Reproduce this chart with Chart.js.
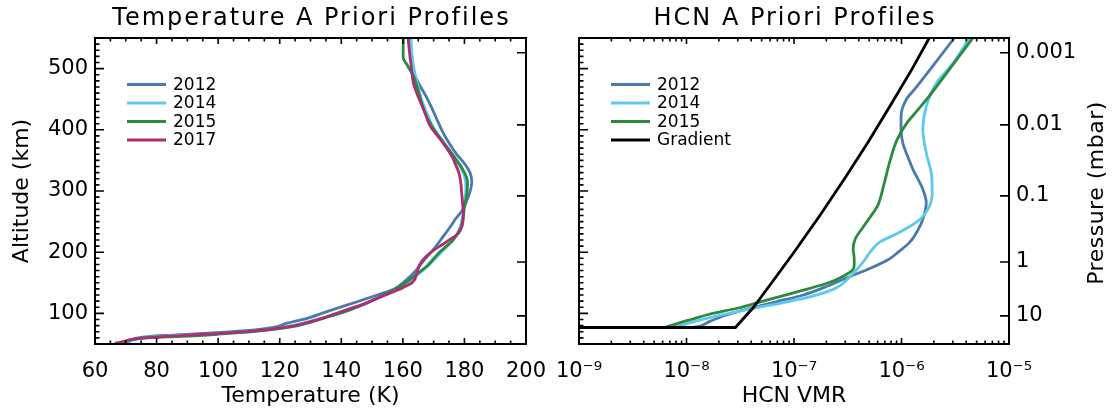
<!DOCTYPE html>
<html>
<head>
<meta charset="utf-8">
<script src="https://cdn.jsdelivr.net/npm/chart.js@4"></script>
<style>
  body { margin: 0; background: #fff; }
  canvas { position: absolute; top: 0; }
</style>
</head>
<body>
<canvas id="temp" width="556" height="410" style="left:0"></canvas>
<canvas id="hcn" width="556" height="410" style="left:556px"></canvas>
<script>
// ---- temperature profiles (K) vs altitude (km)
const alt2012T = [550, 530, 510, 497, 484, 470, 455, 440, 420, 400, 380, 360, 345, 330, 315, 300, 285, 270, 255, 240, 225, 210, 200, 184, 168, 154, 140, 130, 119, 105, 92, 84, 77, 73, 69, 64.5, 62.5, 59.5, 55, 51];
const temp2012 = [162.2, 162.5, 163.0, 163.3, 164.3, 165.8, 167.5, 169.0, 170.8, 172.6, 174.8, 177.5, 180.0, 181.8, 182.4, 181.9, 180.8, 179.5, 177.2, 175.2, 173.0, 170.8, 169.2, 166.4, 163.9, 161.0, 157.2, 151.7, 145.2, 136.5, 128.9, 122.4, 118, 112, 101, 85, 78, 73.5, 71.5, 70.8];

const alt2014T = [550, 520, 490, 470, 450, 425, 405, 385, 365, 345, 325, 305, 280, 260, 240, 221, 200, 177, 156, 140, 123, 101.6, 86, 76, 71, 67, 63.5, 60, 56, 51];
const temp2014 = [162.6, 163.0, 164.0, 165.0, 166.0, 168.0, 169.8, 172.5, 175.5, 178.0, 180.0, 180.5, 180.0, 179.5, 178.5, 176.5, 172.5, 168.0, 163.0, 158.0, 151.0, 140.5, 129, 120, 112, 100, 85, 76, 72, 70.5];

const alt2015T = [550, 535, 518, 505, 487, 460, 430, 405, 380, 357, 335, 315, 295, 275, 260, 243, 232, 221, 210, 199.5, 188, 177, 166, 156, 148, 140, 133, 123, 112, 101.6, 95, 87, 80, 75, 70.5, 66, 62.5, 60.5, 58, 54, 50];
const temp2015 = [160.2, 160.1, 160.1, 161.5, 163.5, 165.2, 167.0, 169.5, 173.0, 176.5, 179.5, 181.0, 180.8, 180.0, 179.7, 179.1, 178.0, 176.5, 174.2, 171.8, 169.8, 167.8, 165.0, 162.5, 160.2, 157.8, 155.0, 150.8, 146.0, 140.4, 136, 131, 126, 120, 112, 100, 88, 78, 73, 70, 66.4];

const alt2017T = [550, 520, 500, 477, 460, 449, 430, 406, 379, 357, 340, 330, 310, 297, 280, 265, 250, 237, 228, 221, 213, 205, 193, 180, 165, 151, 140.5, 127, 113.5, 102.7, 94, 86.5, 80, 75.5, 71.5, 67.5, 63, 60, 57.5, 54, 51];
const temp2017 = [161.7, 162.3, 162.8, 163.4, 164.5, 165.4, 167.0, 168.9, 173.0, 175.9, 177.4, 178.2, 178.9, 179.1, 179.4, 179.6, 179.5, 178.8, 177.5, 175.3, 173.0, 170.5, 167.5, 165.5, 164.5, 163.2, 159.3, 152.8, 146.3, 139.8, 135, 130, 125, 119, 112, 101, 85, 76, 72, 69, 66.4];

// ---- HCN volume mixing ratio vs altitude (km)
const alt2012H = [560, 497, 470, 448.6, 421.6, 400, 378, 355, 335, 302.7, 281, 254, 235, 216, 200, 189, 173, 162, 146, 129.7, 119, 108, 97, 86.5, 79, 77, 77];
const vmr2012 = [3.42e-6, 1.82e-6, 1.38e-6, 1.10e-6, 9.9e-7, 9.9e-7, 1.03e-6, 1.15e-6, 1.28e-6, 1.58e-6, 1.70e-6, 1.58e-6, 1.41e-6, 1.19e-6, 9.3e-7, 7.7e-7, 5.0e-7, 3.5e-7, 2.14e-7, 1.2e-7, 6.8e-8, 3.84e-8, 2.32e-8, 1.63e-8, 1.32e-8, 1.15e-8, 1e-10];

const alt2014H = [560, 508, 475.7, 438, 400, 362, 329.7, 297, 270, 248.6, 229.7, 216, 200, 184, 159.5, 140.5, 124, 113.5, 105.4, 94.6, 83.8, 79, 77, 77];
const vmr2014 = [4.62e-6, 3.0e-6, 2.1e-6, 1.7e-6, 1.58e-6, 1.7e-6, 1.89e-6, 1.93e-6, 1.76e-6, 1.37e-6, 8.9e-7, 6.2e-7, 5.1e-7, 4.4e-7, 3.3e-7, 2.4e-7, 1.2e-7, 6.0e-8, 3.5e-8, 1.8e-8, 1.02e-8, 8.3e-9, 7.5e-9, 1e-10];

const alt2015H = [560, 500, 455, 430, 411, 384, 352, 308, 276, 255, 238, 222, 205, 190, 178, 170, 160, 150, 140, 130, 118, 108, 99, 90, 81, 77, 77];
const vmr2015 = [5.08e-6, 2.82e-6, 1.81e-6, 1.38e-6, 1.12e-6, 9.1e-7, 7.9e-7, 6.8e-7, 6.0e-7, 5.0e-7, 4.27e-7, 3.72e-7, 3.55e-7, 3.63e-7, 3.63e-7, 3.47e-7, 2.82e-7, 2.09e-7, 1.35e-7, 8.3e-8, 4.7e-8, 2.9e-8, 1.66e-8, 1.1e-8, 7.4e-9, 6.3e-9, 1e-10];

const altGrad = [560, 500, 440, 380, 320, 260, 200, 150, 110, 77, 77];
const vmrGrad = [1.95e-6, 1.26e-6, 7.9e-7, 4.9e-7, 2.95e-7, 1.74e-7, 1.0e-7, 6.2e-8, 4.2e-8, 2.85e-8, 1e-10];

// ---- axes
const tempTicks = [60, 80, 100, 120, 140, 160, 180, 200];
const altTicks = [100, 200, 300, 400, 500];
const hcnTicks = [1e-9, 1e-8, 1e-7, 1e-6, 1e-5];
const hcnTickLabels = ['10⁻⁹', '10⁻⁸', '10⁻⁷', '10⁻⁶', '10⁻⁵'];
const pressureAlt = [526, 408, 292, 184, 96];
const pressureLabels = ['0.001', '0.01', '0.1', '1', '10'];

Chart.defaults.font.family = '"DejaVu Sans", sans-serif';
Chart.defaults.color = '#000';

const pts = (xs, ys) => xs.map((v, i) => ({x: v, y: ys[i]}));

function line(label, color, data, i, n, smooth) {
  return {
    label, data, borderColor: color, backgroundColor: color,
    borderWidth: 2.8, pointRadius: 0, showLine: true,
    cubicInterpolationMode: smooth ? 'monotone' : 'default',
    tension: 0, capBezierPoints: false, order: n - i
  };
}

// fixed axis box sizes, and no extra room for overhanging labels
const fixSize = (w, h) => s => {
  if (w !== null) s.width = w;
  if (h !== null) s.height = h;
  s.paddingLeft = s.paddingRight = s.paddingTop = s.paddingBottom = 0;
};

// minor tick values for the frame
const tempMinor = [], altMinor = [], hcnMinor = [];
for (let v = 60; v <= 200; v += 5) if (v % 20) tempMinor.push(v);
for (let v = 50; v <= 550; v += 10) if (v % 100) altMinor.push(v);
for (let e = -9; e < -5; e++) for (let m = 2; m < 10; m++) hcnMinor.push(m * Math.pow(10, e));

// IDL style frame: box with inward ticks on all four sides
const frameTicks = {
  id: 'frameTicks',
  afterDatasetsDraw(chart, args, o) {
    const {ctx, chartArea: a} = chart;
    const x = chart.scales.x, y = chart.scales.y;
    ctx.save();
    ctx.strokeStyle = '#000';
    ctx.lineWidth = 1.6;
    ctx.beginPath();
    const mark = (px, py, dx, dy) => { ctx.moveTo(px, py); ctx.lineTo(px + dx, py + dy); };
    o.xMajor.forEach(v => { const p = x.getPixelForValue(v); mark(p, a.bottom, 0, -6); mark(p, a.top, 0, 6); });
    o.xMinor.forEach(v => { const p = x.getPixelForValue(v); mark(p, a.bottom, 0, -3.5); mark(p, a.top, 0, 3.5); });
    o.yMajor.forEach(v => mark(a.left, y.getPixelForValue(v), 9, 0));
    o.yMinor.forEach(v => mark(a.left, y.getPixelForValue(v), 4.5, 0));
    o.rightMajor.forEach(v => mark(a.right, y.getPixelForValue(v), -9, 0));
    ctx.stroke();
    ctx.lineWidth = 2;
    ctx.strokeRect(a.left, a.top, a.right - a.left, a.bottom - a.top);
    ctx.restore();
  }
};

// panel title, legend and the right-hand pressure label
const panelText = {
  id: 'panelText',
  afterDraw(chart, args, o) {
    const {ctx, chartArea: a} = chart;
    ctx.save();
    ctx.fillStyle = '#000';
    ctx.font = '24px "DejaVu Sans"';
    ctx.letterSpacing = '2px';
    ctx.textAlign = 'center';
    ctx.textBaseline = 'alphabetic';
    ctx.fillText(o.title, (a.left + a.right) / 2 + 1, a.top - 13);
    ctx.letterSpacing = '0px';

    ctx.font = '17px "DejaVu Sans"';
    ctx.textAlign = 'left';
    ctx.textBaseline = 'middle';
    ctx.lineWidth = 3;
    chart.data.datasets.forEach((ds, i) => {
      const yy = a.top + 46.5 + i * 18.5;
      ctx.strokeStyle = ds.borderColor;
      ctx.beginPath();
      ctx.moveTo(a.left + 32, yy);
      ctx.lineTo(a.left + 71, yy);
      ctx.stroke();
      ctx.fillText(ds.label, a.left + 78, yy + 1);
    });

    if (o.rightTitle) {
      ctx.font = '22px "DejaVu Sans"';
      ctx.letterSpacing = '0.5px';
      ctx.textAlign = 'center';
      ctx.translate(a.right + 88, (a.top + a.bottom) / 2 + 2);
      ctx.rotate(-Math.PI / 2);
      ctx.fillText(o.rightTitle, 0, 0);
    }
    ctx.restore();
  }
};

const tickFont = {size: 21};
const titleFont = {size: 22};

new Chart(document.getElementById('temp'), {
  type: 'scatter',
  data: {
    datasets: [
      line('2012', '#4a79ad', pts(temp2012, alt2012T), 0, 4, true),
      line('2014', '#5dc9ef', pts(temp2014, alt2014T), 1, 4, true),
      line('2015', '#2b8a3b', pts(temp2015, alt2015T), 2, 4, true),
      line('2017', '#ab2f72', pts(temp2017, alt2017T), 3, 4, true)
    ]
  },
  plugins: [frameTicks, panelText],
  options: {
    indexAxis: 'y',
    responsive: false,
    animation: false,
    events: [],
    layout: {padding: {top: 38, right: 30, left: 0, bottom: 0}},
    scales: {
      x: {
        type: 'linear', min: 60, max: 200,
        afterBuildTicks: s => { s.ticks = tempTicks.map(v => ({value: v})); },
        afterFit: fixSize(null, 66),
        grid: {display: false, drawTicks: false},
        border: {display: false},
        ticks: {font: tickFont, padding: 15, maxRotation: 0, autoSkip: false},
        title: {display: true, text: 'Temperature (K)', font: titleFont, padding: {top: 0, bottom: 1}}
      },
      y: {
        type: 'linear', min: 50, max: 550,
        afterBuildTicks: s => { s.ticks = altTicks.map(v => ({value: v})); },
        afterFit: fixSize(95, null),
        grid: {display: false, drawTicks: false},
        border: {display: false},
        ticks: {font: tickFont, padding: 7},
        title: {display: true, text: 'Altitude (km)', font: titleFont, padding: {top: 9, bottom: 0}}
      }
    },
    plugins: {
      legend: {display: false},
      tooltip: {enabled: false},
      frameTicks: {xMajor: tempTicks, xMinor: tempMinor, yMajor: altTicks, yMinor: altMinor, rightMajor: pressureAlt},
      panelText: {title: 'Temperature A Priori Profiles'}
    }
  }
});

new Chart(document.getElementById('hcn'), {
  type: 'scatter',
  data: {
    datasets: [
      line('2012', '#4a79ad', pts(vmr2012, alt2012H), 0, 4, true),
      line('2014', '#5dc9ef', pts(vmr2014, alt2014H), 1, 4, true),
      line('2015', '#2b8a3b', pts(vmr2015, alt2015H), 2, 4, true),
      line('Gradient', '#000000', pts(vmrGrad, altGrad), 3, 4, false)
    ]
  },
  plugins: [frameTicks, panelText],
  options: {
    indexAxis: 'y',
    responsive: false,
    animation: false,
    events: [],
    layout: {padding: {top: 38, right: 0, left: 0, bottom: 0}},
    scales: {
      x: {
        type: 'logarithmic', min: 1e-9, max: 1e-5,
        afterBuildTicks: s => { s.ticks = hcnTicks.map(v => ({value: v})); },
        afterFit: fixSize(null, 66),
        grid: {display: false, drawTicks: false},
        border: {display: false},
        ticks: {font: tickFont, padding: 15, maxRotation: 0, autoSkip: false,
                callback: (v, i) => hcnTickLabels[i]},
        title: {display: true, text: 'HCN VMR', font: titleFont, padding: {top: 0, bottom: 1}}
      },
      y: {
        type: 'linear', min: 50, max: 550,
        afterFit: fixSize(23, null),
        grid: {display: false, drawTicks: false},
        border: {display: false},
        ticks: {display: false}
      },
      yP: {
        type: 'linear', position: 'right', min: 50, max: 550,
        afterBuildTicks: s => { s.ticks = pressureAlt.map(v => ({value: v})); },
        afterFit: fixSize(103, null),
        grid: {display: false, drawTicks: false},
        border: {display: false},
        ticks: {font: tickFont, padding: 7, callback: (v, i) => pressureLabels[i]}
      }
    },
    plugins: {
      legend: {display: false},
      tooltip: {enabled: false},
      frameTicks: {xMajor: hcnTicks, xMinor: hcnMinor, yMajor: altTicks, yMinor: altMinor, rightMajor: pressureAlt},
      panelText: {title: 'HCN A Priori Profiles', rightTitle: 'Pressure (mbar)'}
    }
  }
});
</script>
</body>
</html>
